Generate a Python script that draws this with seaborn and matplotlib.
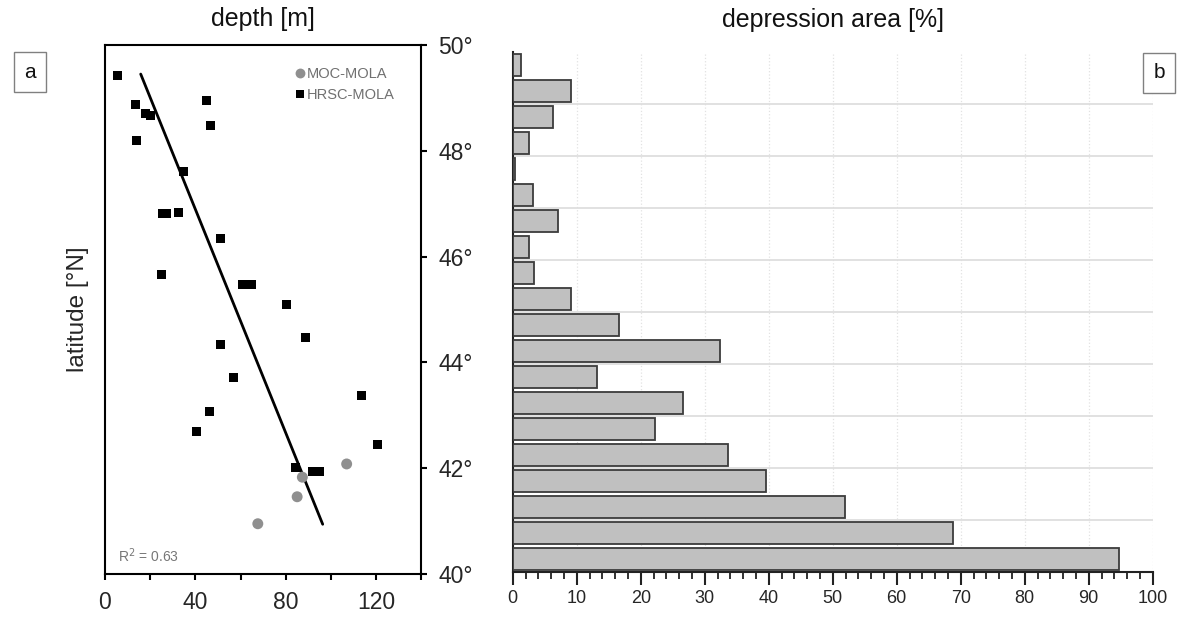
import numpy as np
import pandas as pd
import matplotlib.pyplot as plt
from matplotlib.ticker import MultipleLocator
import seaborn as sns


# ==================================================
# DATA — PANEL A (depth vs latitude)
# ==================================================
hrsc_depth = [5.4, 13.6, 18.1, 20.0, 14.0, 44.7, 46.8, 34.8, 25.5, 27.0,
              32.3, 51.3, 25.1, 60.8, 64.7, 80.4, 88.6, 51.3, 56.8, 46.2,
              40.3, 113.6, 120.7, 84.4, 91.7, 94.7]
hrsc_lat = [49.42, 48.88, 48.70, 48.66, 48.19, 48.95, 48.47, 47.60, 46.82, 46.82,
            46.83, 46.35, 45.67, 45.48, 45.47, 45.10, 44.47, 44.34, 43.71, 43.08,
            42.70, 43.37, 42.44, 42.01, 41.93, 41.93]
moc_depth = [106.9, 87.3, 85.0, 67.6]
moc_lat = [42.08, 41.83, 41.46, 40.95]
trend_depth = [15.8, 96.3]
trend_lat = [49.45, 40.94]
r_squared = 0.63

# ==================================================
# DATA — PANEL B (depression area per 0.5° bin)
# ==================================================
lat_bins = [40.25, 40.75, 41.25, 41.75, 42.25, 42.75, 43.25, 43.75, 44.25, 44.75,
            45.25, 45.75, 46.25, 46.75, 47.25, 47.75, 48.25, 48.75, 49.25, 49.75]
area_pct = [94.7, 68.8, 51.9, 39.5, 33.6, 22.2, 26.6, 13.1, 32.4, 16.6,
            9.1, 3.3, 2.5, 7.0, 3.2, 0.3, 2.5, 6.25, 9.1, 1.25]

lat_ticks = [40, 42, 44, 46, 48, 50]

# ------------------------------
# STYLE
# ------------------------------
sns.set_theme(style="white")
plt.rcParams["font.family"] = ["Liberation Sans", "DejaVu Sans"]
plt.rcParams["text.color"] = "#111111"

fig = plt.figure(figsize=(11.77, 6.17), dpi=100)
ax1 = fig.add_axes([0.0892, 0.0697, 0.2689, 0.8574])
ax2 = fig.add_axes([0.4356, 0.0729, 0.5438, 0.8428])

# ==================================================
# PANEL A
# ==================================================
pts = pd.DataFrame({
    "depth": moc_depth + hrsc_depth,
    "lat": moc_lat + hrsc_lat,
    "source": ["MOC-MOLA"] * len(moc_depth) + ["HRSC-MOLA"] * len(hrsc_depth),
})

sns.scatterplot(
    data=pts, x="depth", y="lat", hue="source", style="source", size="source",
    hue_order=["MOC-MOLA", "HRSC-MOLA"],
    palette={"MOC-MOLA": "#8f8f8f", "HRSC-MOLA": "black"},
    markers={"MOC-MOLA": "o", "HRSC-MOLA": "s"},
    sizes={"MOC-MOLA": 62, "HRSC-MOLA": 42},
    linewidth=0, ax=ax1, zorder=3,
)
ax1.plot(trend_depth, trend_lat, color="black", lw=2.0, zorder=2)

handles, labels = ax1.get_legend_handles_labels()
ax1.legend(handles, labels, loc="upper right", frameon=False,
           fontsize=10.5, labelcolor="#707070", handletextpad=0.1,
           handlelength=0.8, borderaxespad=0.6, labelspacing=0.45,
           markerscale=0.9, bbox_to_anchor=(0.962, 0.985))

ax1.text(0.04, 0.022, f"R$^2$ = {r_squared:.2f}", transform=ax1.transAxes,
         fontsize=10, color="#777777")

ax1.set_xlim(0, 140)
ax1.set_ylim(40, 50)
ax1.set_xticks(range(0, 141, 20))
ax1.set_xticklabels(["0", "", "40", "", "80", "", "120", ""])
ax1.yaxis.tick_right()
ax1.set_yticks(lat_ticks)
ax1.set_yticklabels([f"{t}°" for t in lat_ticks])
ax1.tick_params(axis="both", direction="out", length=4, width=1.5,
                color="black", labelsize=16.5, pad=6)
ax1.tick_params(axis="x", bottom=True, pad=8)
ax1.tick_params(axis="y", right=True, left=False, pad=8)
for sp in ax1.spines.values():
    sp.set_color("black")
    sp.set_linewidth(1.5)

ax1.set_xlabel("")
ax1.set_ylabel("latitude [°N]", fontsize=17.5)
ax1.yaxis.set_label_coords(-0.05, 0.5)
ax1.set_title("depth [m]", fontsize=18, pad=14)

# ==================================================
# PANEL B
# ==================================================
sns.barplot(
    x=area_pct, y=lat_bins, orient="h", native_scale=True, width=0.82,
    color="#c0c0c0", saturation=1, edgecolor="#3c3c3c", linewidth=1.3,
    errorbar=None, ax=ax2, zorder=3,
)

ax2.set_xlim(0, 100)
ax2.set_ylim(40, 50)
ax2.xaxis.set_major_locator(MultipleLocator(10))
ax2.xaxis.set_minor_locator(MultipleLocator(2))
ax2.set_yticks(range(41, 50))
ax2.set_yticklabels([])
ax2.tick_params(axis="y", length=0)
ax2.tick_params(axis="x", which="major", direction="out", length=9, width=1.5,
                color="#222222", labelsize=13, pad=4, bottom=True)
ax2.tick_params(axis="x", which="minor", direction="out", length=5, width=1.3,
                color="#222222", bottom=True)

ax2.set_axisbelow(True)
ax2.grid(axis="y", color="#dcdcdc", lw=1.2, ls="-")
ax2.grid(axis="x", color="#e2e2e2", lw=0.9, ls=":")

sns.despine(ax=ax2, top=True, right=True)
ax2.spines["left"].set_color("#222222")
ax2.spines["left"].set_linewidth(1.5)
ax2.spines["bottom"].set_color("#222222")
ax2.spines["bottom"].set_linewidth(1.5)

ax2.set_xlabel("")
ax2.set_ylabel("")
ax2.set_title("depression area [%]", fontsize=18, pad=18)

# ------------------------------
# PANEL LETTERS
# ------------------------------
box = dict(boxstyle="square,pad=0.5", fc="white", ec="#808080", lw=1.0)
fig.text(30 / 1177, 1 - 72 / 617, "a", fontsize=15, ha="center", va="center", bbox=box)
fig.text(1159 / 1177, 1 - 73 / 617, "b", fontsize=15, ha="center", va="center", bbox=box)

fig.savefig("out.png", dpi=100)
